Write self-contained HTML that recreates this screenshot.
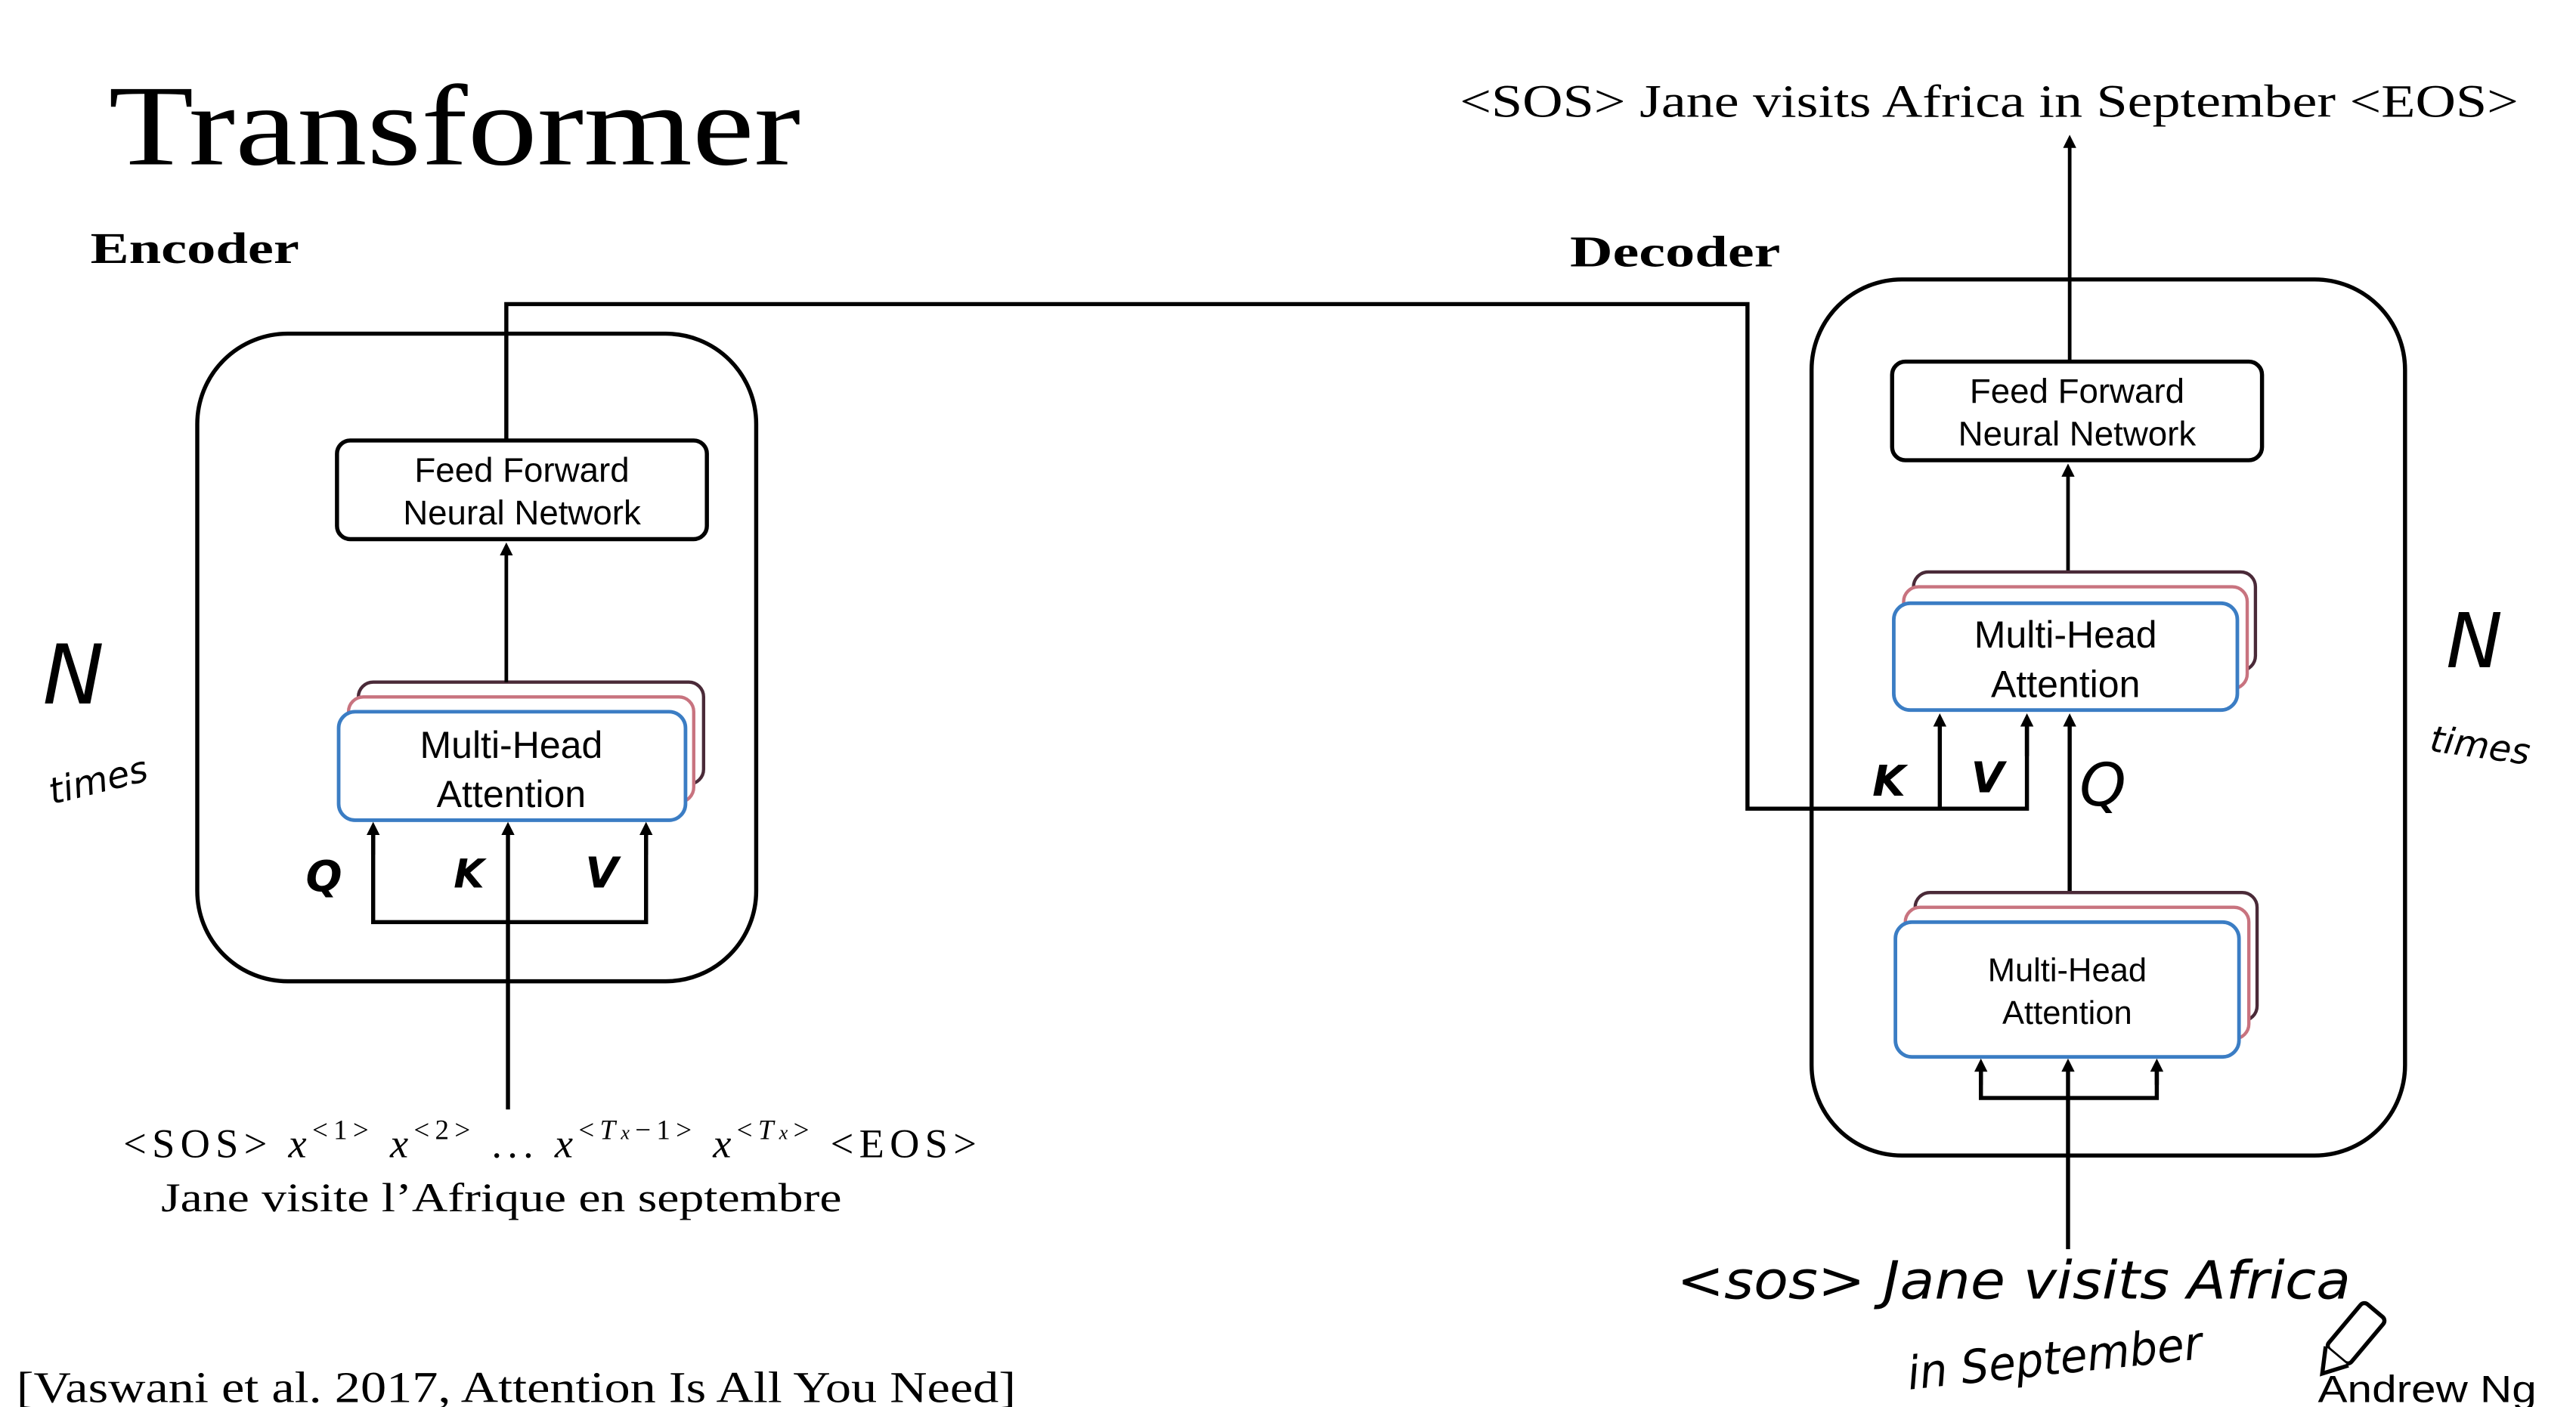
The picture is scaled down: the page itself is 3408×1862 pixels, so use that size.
<!DOCTYPE html>
<html><head><meta charset="utf-8"><style>
html,body{margin:0;padding:0;background:#fff;}
svg{display:block;}
.serif{font-family:"Liberation Serif",serif;}
.sans{font-family:"Liberation Sans",sans-serif;}
.hand{font-family:"DejaVu Sans","Liberation Sans",sans-serif;font-style:italic;}
</style></head><body>
<svg width="3408" height="1862" viewBox="0 0 1567 856" preserveAspectRatio="none" xmlns="http://www.w3.org/2000/svg">
<defs>
<marker id="ar" markerWidth="8" markerHeight="8" refX="4" refY="4" orient="auto" markerUnits="userSpaceOnUse">
<path d="M0,0 L8,4 L0,8 z" fill="#000"/>
</marker>
</defs>
<rect width="1567" height="856" fill="#fff"/>
<text x="66" y="100" class="serif" font-size="70" textLength="421" lengthAdjust="spacingAndGlyphs">Transformer</text>
<text x="55" y="160" class="serif" font-size="27" font-weight="bold" textLength="127" lengthAdjust="spacingAndGlyphs">Encoder</text>
<text x="955" y="162" class="serif" font-size="27" font-weight="bold" textLength="128" lengthAdjust="spacingAndGlyphs">Decoder</text>
<text x="888" y="71" class="serif" font-size="28" textLength="644" lengthAdjust="spacingAndGlyphs">&lt;SOS&gt; Jane visits Africa in September &lt;EOS&gt;</text>

<!-- Encoder -->
<rect x="120" y="203" width="340" height="394" rx="55" fill="none" stroke="#000" stroke-width="2.5"/>
<rect x="205" y="268" width="225" height="60" rx="8" fill="#fff" stroke="#000" stroke-width="2.5"/>
<text x="317.5" y="293" text-anchor="middle" class="sans" font-size="21">Feed Forward</text>
<text x="317.5" y="319" text-anchor="middle" class="sans" font-size="21">Neural Network</text>
<rect x="218" y="415" width="210" height="62" rx="9" fill="#fff" stroke="#4a2a38" stroke-width="2"/>
<rect x="212" y="424" width="210" height="64" rx="9" fill="#fff" stroke="#c8737f" stroke-width="2"/>
<rect x="206" y="433" width="211" height="66" rx="10" fill="#fff" stroke="#3b7dc4" stroke-width="2.2"/>
<text x="311" y="461" text-anchor="middle" class="sans" font-size="23">Multi-Head</text>
<text x="311" y="491" text-anchor="middle" class="sans" font-size="23">Attention</text>
<line x1="308" y1="415" x2="308" y2="334" stroke="#000" stroke-width="2.2" marker-end="url(#ar)"/>
<polyline points="227,505 227,561 393,561 393,505" fill="none" stroke="#000" stroke-width="2.5"/>
<line x1="227" y1="520" x2="227" y2="504" stroke="#000" stroke-width="2.5" marker-end="url(#ar)"/>
<line x1="393" y1="520" x2="393" y2="504" stroke="#000" stroke-width="2.5" marker-end="url(#ar)"/>
<line x1="309" y1="675" x2="309" y2="504" stroke="#000" stroke-width="2.5" marker-end="url(#ar)"/>
<text x="186" y="542" class="hand" font-size="26" font-weight="bold">Q</text>
<text x="276" y="540" class="hand" font-size="24" font-weight="bold">K</text>
<text x="356" y="540" class="hand" font-size="26" font-weight="bold">V</text>
<text x="26" y="428" class="hand" font-size="50">N</text>
<text x="28" y="482" class="hand" font-size="22" transform="rotate(-14 60 470)">times</text>

<!-- cross connection -->
<polyline points="308,268 308,185 1063,185 1063,492 1233,492 1233,440" fill="none" stroke="#000" stroke-width="2.5"/>
<line x1="1180" y1="492" x2="1180" y2="438" stroke="#000" stroke-width="2.5" marker-end="url(#ar)"/>
<line x1="1233" y1="460" x2="1233" y2="438" stroke="#000" stroke-width="2.5" marker-end="url(#ar)"/>

<!-- encoder inputs -->
<text x="75" y="704" class="serif" font-size="25" textLength="519" lengthAdjust="spacing">&lt;SOS&gt; <tspan font-style="italic">x</tspan><tspan dy="-11" font-size="17">&lt;1&gt;</tspan><tspan dy="11">  </tspan><tspan font-style="italic">x</tspan><tspan dy="-11" font-size="17">&lt;2&gt;</tspan><tspan dy="11">   ...  </tspan><tspan font-style="italic">x</tspan><tspan dy="-11" font-size="17">&lt;<tspan font-style="italic">T</tspan><tspan font-size="12" font-style="italic">x</tspan>−1&gt;</tspan><tspan dy="11">   </tspan><tspan font-style="italic">x</tspan><tspan dy="-11" font-size="17">&lt;<tspan font-style="italic">T</tspan><tspan font-size="12" font-style="italic">x</tspan>&gt;</tspan><tspan dy="11">  &lt;EOS&gt;</tspan></text>
<text x="98" y="737" class="serif" font-size="25" textLength="414" lengthAdjust="spacingAndGlyphs">Jane visite l’Afrique en septembre</text>
<text x="10" y="853" class="serif" font-size="27" textLength="608" lengthAdjust="spacingAndGlyphs">[Vaswani et al. 2017, Attention Is All You Need]</text>

<!-- Decoder -->
<rect x="1102" y="170" width="361" height="533" rx="55" fill="none" stroke="#000" stroke-width="2.5"/>
<line x1="1259" y1="220" x2="1259" y2="86" stroke="#000" stroke-width="2.2" marker-end="url(#ar)"/>
<rect x="1151" y="220" width="225" height="60" rx="8" fill="#fff" stroke="#000" stroke-width="2.5"/>
<text x="1263.5" y="245" text-anchor="middle" class="sans" font-size="21">Feed Forward</text>
<text x="1263.5" y="271" text-anchor="middle" class="sans" font-size="21">Neural Network</text>
<line x1="1258" y1="348" x2="1258" y2="286" stroke="#000" stroke-width="2.2" marker-end="url(#ar)"/>
<rect x="1164" y="348" width="208" height="60" rx="9" fill="#fff" stroke="#4a2a38" stroke-width="2"/>
<rect x="1158" y="357" width="209" height="62" rx="9" fill="#fff" stroke="#c8737f" stroke-width="2"/>
<rect x="1152" y="367" width="209" height="65" rx="10" fill="#fff" stroke="#3b7dc4" stroke-width="2.2"/>
<text x="1256.5" y="394" text-anchor="middle" class="sans" font-size="23">Multi-Head</text>
<text x="1256.5" y="424" text-anchor="middle" class="sans" font-size="23">Attention</text>
<line x1="1259" y1="545" x2="1259" y2="438" stroke="#000" stroke-width="2.5" marker-end="url(#ar)"/>
<text x="1139" y="484" class="hand" font-size="26" font-weight="bold">K</text>
<text x="1199" y="482" class="hand" font-size="26" font-weight="bold">V</text>
<text x="1265" y="490" class="hand" font-size="36">Q</text>

<rect x="1165" y="543" width="208" height="78" rx="9" fill="#fff" stroke="#4a2a38" stroke-width="2"/>
<rect x="1159" y="552" width="209" height="80" rx="9" fill="#fff" stroke="#c8737f" stroke-width="2"/>
<rect x="1153" y="561" width="209" height="82" rx="10" fill="#fff" stroke="#3b7dc4" stroke-width="2.2"/>
<text x="1257.5" y="597" text-anchor="middle" class="sans" font-size="20">Multi-Head</text>
<text x="1257.5" y="623" text-anchor="middle" class="sans" font-size="20">Attention</text>
<polyline points="1205,650 1205,668 1312,668 1312,650" fill="none" stroke="#000" stroke-width="2.5"/>
<line x1="1205" y1="660" x2="1205" y2="648" stroke="#000" stroke-width="2.5" marker-end="url(#ar)"/>
<line x1="1312" y1="660" x2="1312" y2="648" stroke="#000" stroke-width="2.5" marker-end="url(#ar)"/>
<line x1="1258" y1="760" x2="1258" y2="648" stroke="#000" stroke-width="2.5" marker-end="url(#ar)"/>

<text x="1488" y="406" class="hand" font-size="46">N</text>
<text x="1478" y="462" class="hand" font-size="22" transform="rotate(8 1515 455)">times</text>

<text x="1020" y="790" class="hand" font-size="32" textLength="410" lengthAdjust="spacingAndGlyphs">&lt;sos&gt; Jane visits Africa</text>
<text x="1160" y="836" class="hand" font-size="28" textLength="180" lengthAdjust="spacingAndGlyphs" transform="rotate(-6 1250 828)">in September</text>

<!-- pencil -->
<g transform="rotate(40 1430 815)" stroke="#000" stroke-width="2.5" fill="#fff">
<rect x="1421" y="792" width="18" height="36" rx="3"/>
<path d="M1421,828 L1430,842 L1439,828" />
</g>
<text x="1410" y="853" class="sans" font-size="23" textLength="133" lengthAdjust="spacingAndGlyphs">Andrew Ng</text>
</svg>
</body></html>
